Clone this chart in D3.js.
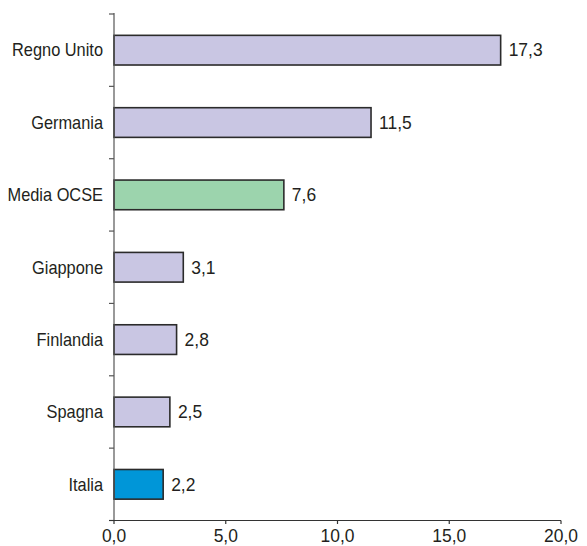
<!DOCTYPE html>
<html><head><meta charset="utf-8">
<script src="https://cdn.jsdelivr.net/npm/d3@7"></script>
<style>body{margin:0;background:#fff}text{font-family:"Liberation Sans Narrow","Arial Narrow","Liberation Sans",sans-serif;fill:#231f20}</style>
</head><body><svg id="c" width="587" height="546"></svg>
<script>
const categories = ["Regno Unito","Germania","Media OCSE","Giappone","Finlandia","Spagna","Italia"];
const values = [17.3, 11.5, 7.6, 3.1, 2.8, 2.5, 2.2];
const valueLabels = ["17,3","11,5","7,6","3,1","2,8","2,5","2,2"];
const colors = ["#c9c6e3","#c9c6e3","#9cd4ad","#c9c6e3","#c9c6e3","#c9c6e3","#0096d8"];
const tickValues = [0,5,10,15,20];
const tickLabels = ["0,0","5,0","10,0","15,0","20,0"];

const FS = 18;
const svg = d3.select("#c");
const x = d3.scaleLinear().domain([0,20]).range([114,561]);
const y = d3.scaleBand().domain(categories).range([14,520.5]).paddingInner(0.59).paddingOuter(0.295);

function txt(sel, fx, fy, sx){
  sel.attr("transform",(d,i)=>`translate(${fx(d,i)},${fy(d,i)}) scale(${sx},1)`)
     .attr("font-size",FS);
}

// bars
svg.selectAll("rect.bar").data(categories).join("rect")
  .attr("x", x(0)).attr("y", d=>y(d))
  .attr("width", (d,i)=>x(values[i])-x(0)).attr("height", y.bandwidth())
  .attr("fill",(d,i)=>colors[i]).attr("stroke","#2b2b2b").attr("stroke-width",1.6);

// value labels
svg.selectAll("text.val").data(categories).join("text").attr("class","val")
  .call(txt,(d,i)=>x(values[i])+8,d=>y(d)+y.bandwidth()/2,0.97)
  .attr("dy","0.35em").text((d,i)=>valueLabels[i]);

// y axis
const yBounds = d3.range(categories.length+1).map(i=>14 + i*(520.5-14)/categories.length);
svg.append("line").attr("x1",114).attr("x2",114).attr("y1",13).attr("y2",520.5).attr("stroke","#555").attr("stroke-width",1.2);
svg.selectAll("line.yt").data(yBounds).join("line")
  .attr("x1",109).attr("x2",114).attr("y1",d=>d).attr("y2",d=>d).attr("stroke","#555").attr("stroke-width",1.2);
svg.selectAll("text.cat").data(categories).join("text").attr("class","cat")
  .call(txt,()=>103,d=>y(d)+y.bandwidth()/2,0.91).attr("dy","0.35em")
  .attr("text-anchor","end").text(d=>d);

// x axis
svg.append("line").attr("x1",109).attr("x2",561).attr("y1",520.5).attr("y2",520.5).attr("stroke","#333").attr("stroke-width",1.2);
svg.selectAll("line.xt").data(tickValues).join("line")
  .attr("x1",d=>x(d)).attr("x2",d=>x(d)).attr("y1",520.5).attr("y2",524).attr("stroke","#333").attr("stroke-width",1.2);
svg.selectAll("text.xl").data(tickValues).join("text").attr("class","xl")
  .call(txt,d=>x(d),()=>542,0.97).attr("text-anchor","middle")
  .text((d,i)=>tickLabels[i]);
</script></body></html>
